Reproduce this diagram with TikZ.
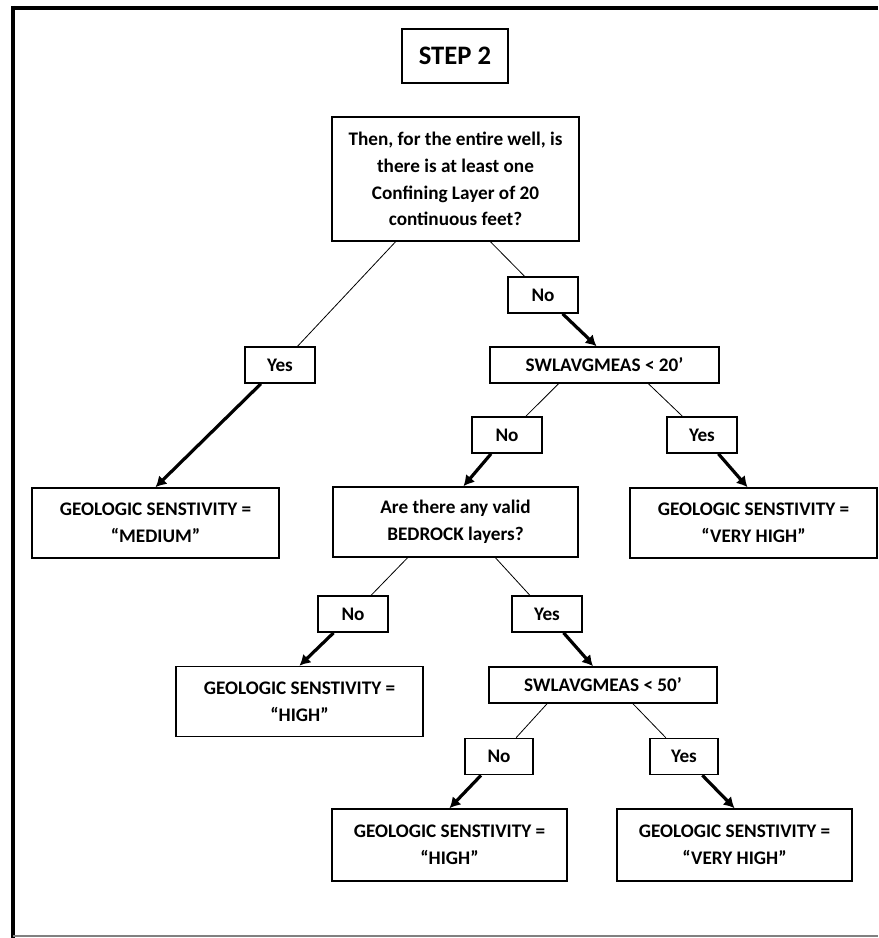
\documentclass[tikz,border=0pt]{standalone}
\usepackage{fontspec}
\setmainfont{Carlito}
\usetikzlibrary{calc,arrows.meta}

\begin{document}
\begin{tikzpicture}[x=0.75pt,y=-0.75pt,
  font=\bfseries\fontsize{14.4}{20}\selectfont,
  box/.style={draw,line width=1.2pt,align=center,inner sep=0pt},
  ans/.style={box,minimum width=52.5pt,minimum height=27pt},
  res/.style={box,minimum width=185pt,minimum height=52.5pt},
  cond/.style={box,minimum width=172pt,minimum height=27pt},
  branch/.style={line width=0.6pt},
  flow/.style={line width=2.4pt,-{Latex[length=8pt,width=9pt]}}]
\useasboundingbox (0,0) rectangle (878,938);
\draw[line width=3.5pt] (11,8)--(878,8);
\draw[line width=3pt] (13,6)--(13,938);
\draw[gray,line width=1pt] (13,936)--(878,936);

\node[box,minimum width=79.5pt,minimum height=40.5pt,font=\bfseries\fontsize{20}{22}\selectfont] (step) at (455,56) {STEP 2};
\node[box,minimum width=185pt,minimum height=93pt] (q1) at (455.5,179) {Then, for the entire well, is\\there is at least one\\Confining Layer of 20\\continuous feet?};
\node[ans] (yes1) at (280,365) {Yes};
\node[ans] (no1) at (543,295) {No};
\node[res] (medium) at (155.5,523) {GEOLOGIC SENSTIVITY =\\“MEDIUM”};
\node[cond] (swl20) at (604.5,365) {SWLAVGMEAS < 20’};
\node[ans] (no2) at (507,435) {No};
\node[ans] (yes2) at (702,435) {Yes};
\node[res,minimum width=184pt] (bedrock) at (455.5,522) {Are there any valid\\BEDROCK layers?};
\node[res] (vhigh1) at (753.5,523) {GEOLOGIC SENSTIVITY =\\“VERY HIGH”};
\node[ans] (no3) at (353,614) {No};
\node[ans] (yes3) at (547,614) {Yes};
\node[res] (high1) at (299.5,701.5) {GEOLOGIC SENSTIVITY =\\“HIGH”};
\node[cond,minimum width=171pt] (swl50) at (603,685) {SWLAVGMEAS < 50’};
\node[ans,minimum width=51pt] (no4) at (499,756.5) {No};
\node[ans,minimum width=51pt] (yes4) at (684,756.5) {Yes};
\node[res,minimum width=176pt,minimum height=54pt] (high2) at (449.5,845) {GEOLOGIC SENSTIVITY =\\“HIGH”};
\node[res,minimum width=176pt,minimum height=54pt] (vhigh2) at (734.5,845) {GEOLOGIC SENSTIVITY =\\“VERY HIGH”};

\draw[branch] ($(q1.south)+(-60,0)$)--(yes1);
\draw[branch] ($(q1.south)+(35,0)$)--(no1);
\draw[flow] (yes1)--(medium.north);
\draw[flow] (no1)--($(swl20.north)+(-8,0)$);
\draw[branch] ($(swl20.south)+(-46,0)$)--(no2);
\draw[branch] ($(swl20.south)+(44,0)$)--(yes2);
\draw[flow] (no2)--($(bedrock.north)+(8,0)$);
\draw[flow] (yes2)--($(vhigh1.north)+(-6,0)$);
\draw[branch] ($(bedrock.south)+(-48,0)$)--(no3);
\draw[branch] ($(bedrock.south)+(40,0)$)--(yes3);
\draw[flow] (no3)--(high1.north);
\draw[flow] (yes3)--($(swl50.north)+(-10,0)$);
\draw[branch] ($(swl50.south)+(-56,0)$)--(no4);
\draw[branch] ($(swl50.south)+(30,0)$)--(yes4);
\draw[flow] (no4)--(high2.north);
\draw[flow] (yes4)--(vhigh2.north);
\end{tikzpicture}
\end{document}
